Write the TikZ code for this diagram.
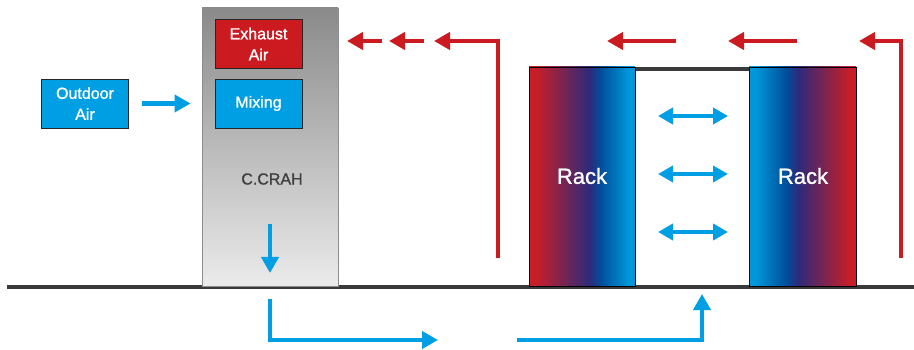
\documentclass[tikz,border=0pt]{standalone}
\usepackage{fontspec}
\setmainfont{Liberation Sans}[RawFeature={embolden=1.2}]
\usetikzlibrary{arrows.meta}
\definecolor{cred}{HTML}{CC1A21}
\definecolor{cblue}{HTML}{009FE3}
\definecolor{floorc}{HTML}{3A3A3A}
\definecolor{crtop}{HTML}{8A8A8A}
\definecolor{crbot}{HTML}{EBEBEB}
\definecolor{rkred}{HTML}{C81E28}
\definecolor{rkpur}{HTML}{2E2A7A}
\definecolor{rkdb}{HTML}{00509C}
\definecolor{rklb}{HTML}{0098DA}
\pgfdeclarehorizontalshading{rackLR}{100bp}{color(0bp)=(rkred); color(28bp)=(rkred); color(53.5bp)=(rkpur); color(59bp)=(rkdb); color(72bp)=(rklb); color(100bp)=(rklb)}
\pgfdeclarehorizontalshading{rackRL}{100bp}{color(0bp)=(rklb); color(28bp)=(rklb); color(42bp)=(rkdb); color(48bp)=(rkpur); color(72bp)=(rkred); color(100bp)=(rkred)}
\tikzset{
  box/.style={draw=black!85, line width=0.9pt, text=white, align=center, inner sep=0pt,
    font=\fontsize{16}{21}\selectfont, minimum width=87pt, minimum height=49pt},
  flow/.style={line width=4.5pt, -{Triangle[length=16pt,width=17pt]}},
  bflow/.style={flow, draw=cblue},
  rflow/.style={flow, draw=cred},
  dflow/.style={line width=4.5pt, draw=cblue, {Triangle[length=15pt,width=16pt]}-{Triangle[length=15pt,width=16pt]}},
  floorline/.style={draw=floorc, line width=3.6pt},
  racklbl/.style={text=white, font=\fontsize{22}{26}\selectfont},
}
\begin{document}
\begin{tikzpicture}[x=1pt,y=-1pt]
\useasboundingbox (0,0) rectangle (914,350);
% floor and aisle cap
\draw[floorline] (7,287) -- (914,287);
\draw[floorline] (635,69) -- (749,69);
% CRAH
\node[draw=black!45, line width=0.9pt, top color=crtop, bottom color=crbot, minimum width=136pt, minimum height=278pt, inner sep=0pt] (crah) at (270,147) {};
\node[text=black!75, font=\fontsize{16}{20}\selectfont] (crahlbl) at (272,179) {C.CRAH};
\node[box, fill=cred] (exh) at (258.5,44) {Exhaust\\Air};
\node[box, fill=cblue] (mix) at (258.5,103.5) {Mixing};
\node[box, fill=cblue] (out) at (85,103.5) {Outdoor\\Air};
% racks
\shade[shading=rackLR, draw=black, line width=0.9pt] (529,67) rectangle (635,286);
\shade[shading=rackRL, draw=black, line width=0.9pt] (749,67) rectangle (856,286);
\node[racklbl] (rack1) at (582,176) {Rack};
\node[racklbl] (rack2) at (803,176) {Rack};
% coordinates
\coordinate (d1) at (270,224); \coordinate (d2) at (270,273);
\coordinate (b1) at (270,299); \coordinate (b2) at (270,340); \coordinate (b3) at (438,340);
\coordinate (c1) at (517,340); \coordinate (c2) at (702,340); \coordinate (c3) at (702,294);
\coordinate (r1a) at (382,41); \coordinate (r1b) at (347,41);
\coordinate (r2a) at (424,41); \coordinate (r2b) at (389,41);
\coordinate (r3a) at (498,258); \coordinate (r3b) at (498,41); \coordinate (r3c) at (434,41);
\coordinate (r4a) at (676,41); \coordinate (r4b) at (607,41);
\coordinate (r5a) at (797,41); \coordinate (r5b) at (728,41);
\coordinate (r6a) at (901,258); \coordinate (r6b) at (901,41); \coordinate (r6c) at (859,41);
\coordinate (h1a) at (658,116); \coordinate (h1b) at (728,116);
\coordinate (h2a) at (658,174); \coordinate (h2b) at (728,174);
\coordinate (h3a) at (658,232); \coordinate (h3b) at (728,232);
% blue flows
\draw[bflow] ([xshift=13pt]out.east) -- ([xshift=-11pt]crah.west |- out.east);
\draw[bflow] (d1) -- (d2);
\draw[bflow] (b1) -- (b2) -- (b3);
\draw[bflow] (c1) -- (c2) -- (c3);
\draw[dflow] (h1a) -- (h1b);
\draw[dflow] (h2a) -- (h2b);
\draw[dflow] (h3a) -- (h3b);
% red flows
\draw[rflow] (r1a) -- (r1b);
\draw[rflow] (r2a) -- (r2b);
\draw[rflow] (r3a) -- (r3b) -- (r3c);
\draw[rflow] (r4a) -- (r4b);
\draw[rflow] (r5a) -- (r5b);
\draw[rflow] (r6a) -- (r6b) -- (r6c);
\end{tikzpicture}
\end{document}
